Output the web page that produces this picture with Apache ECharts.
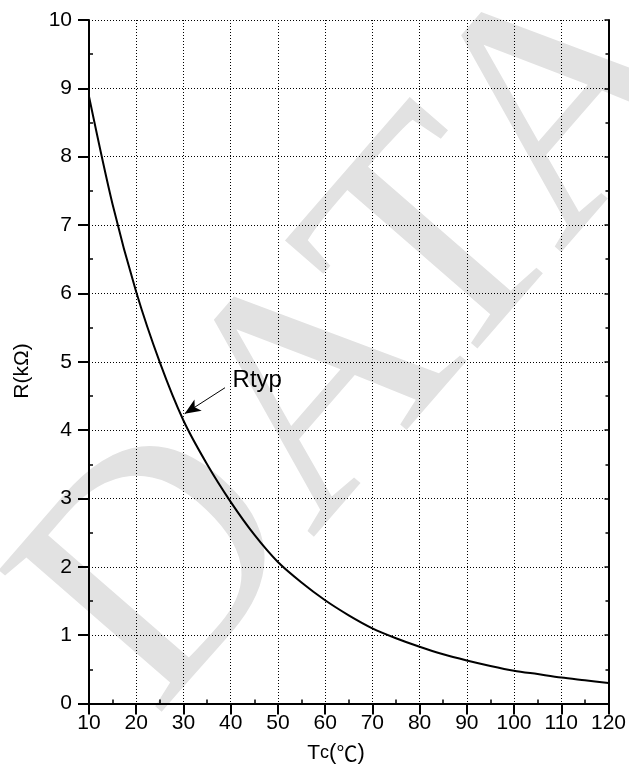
<!DOCTYPE html>
<html><head><meta charset="utf-8">
<script src="https://cdn.jsdelivr.net/npm/echarts@6/dist/echarts.min.js"></script>
<style>html,body{margin:0;padding:0;background:#fff}#c{width:629px;height:779px}</style>
</head><body><div id="c"></div>
<script>
var temps = [10,15,20,25,30,35,40,45,50,55,60,65,70,75,80,85,90,95,100,105,110,115,120];
var rTyp  = [8.88,7.30,6.02,4.99,4.14,3.50,2.95,2.47,2.07,1.77,1.51,1.29,1.10,0.955,0.83,0.72,0.63,0.55,0.48,0.43,0.38,0.34,0.30];
var xTicks = {min:10, max:120, interval:10};
var yTicks = {min:0, max:10, interval:1};
var arrowFrom = [38.8, 4.62], arrowTo = [30.25, 4.24];
var labelAt = [40.4, 4.72];
var watermark = 'DATA';

var font = 'Liberation Sans, Arial, sans-serif';
var chart = echarts.init(document.getElementById('c'));
var baseX = {type:'value', min:xTicks.min, max:xTicks.max, interval:xTicks.interval, gridIndex:0};
var baseY = {type:'value', min:yTicks.min, max:yTicks.max, interval:yTicks.interval, gridIndex:0};
var data = temps.map(function(t,i){return [t, rTyp[i]];});
chart.setOption({
  animation:false,
  grid:{left:89, right:20, top:20, bottom:75.5, containLabel:false},
  xAxis:[
    Object.assign({}, baseX, {position:'bottom',
      axisLine:{lineStyle:{color:'#000', width:2}},
      axisTick:{show:true, inside:false, length:11, lineStyle:{color:'#000', width:2}},
      axisLabel:{color:'#000', fontSize:21, fontFamily:font, margin:9},
      splitLine:{show:true, lineStyle:{color:'#000', width:1, type:[1,2]}},
      minorTick:{show:false}}),
    Object.assign({}, baseX, {position:'bottom',
      axisLine:{show:false}, axisTick:{show:false, inside:true}, axisLabel:{show:false}, splitLine:{show:false},
      minorTick:{show:true, splitNumber:2, length:4, lineStyle:{color:'#000', width:1.5}}}),
    Object.assign({}, baseX, {position:'top',
      axisLine:{lineStyle:{color:'#000', width:2}}, axisTick:{show:false}, axisLabel:{show:false}, splitLine:{show:false}})
  ],
  yAxis:[
    Object.assign({}, baseY, {position:'left',
      axisLine:{lineStyle:{color:'#000', width:2}},
      axisTick:{show:true, inside:false, length:11, lineStyle:{color:'#000', width:2}},
      axisLabel:{color:'#000', fontSize:21, fontFamily:font, margin:17},
      splitLine:{show:true, lineStyle:{color:'#000', width:1, type:[1,2]}},
      minorTick:{show:false}}),
    Object.assign({}, baseY, {position:'left',
      axisLine:{show:false}, axisTick:{show:false, inside:true}, axisLabel:{show:false}, splitLine:{show:false},
      minorTick:{show:true, splitNumber:2, length:4, lineStyle:{color:'#000', width:1.5}}}),
    Object.assign({}, baseY, {position:'right',
      axisLine:{lineStyle:{color:'#000', width:2}},
      axisTick:{show:true, inside:true, length:4, lineStyle:{color:'#000', width:1.5}},
      axisLabel:{show:false}, splitLine:{show:false},
      minorTick:{show:true, splitNumber:2, length:3, lineStyle:{color:'#000', width:1.5}}})
  ],
  series:[{
    type:'line', data:data, smooth:0.3, showSymbol:false, symbol:'none',
    lineStyle:{color:'#000', width:2}, xAxisIndex:0, yAxisIndex:0, z:5,
    markLine:{silent:true, symbol:['none','arrow'], symbolSize:[10,16],
      lineStyle:{color:'#000', width:1, type:'solid'}, label:{show:false},
      data:[[{coord:arrowFrom},{coord:arrowTo}]]}
  }]
});
function place(){
  var p = chart.convertToPixel({xAxisIndex:0, yAxisIndex:0}, labelAt);
  chart.setOption({graphic:[
    {type:'text', x:370, y:340, rotation:49*Math.PI/180, z:-100, silent:true,
      style:{text:watermark, font:'330px "Liberation Serif", serif', fill:'#e2e2e2', align:'center', verticalAlign:'middle'}},
    {type:'text', left:p[0], top:p[1]-13, style:{text:'Rtyp', font:'24px '+font, fill:'#000'}},
    {type:'text', x:22, y:371, rotation:Math.PI/2, style:{text:'R(kΩ)', font:'21px '+font, fill:'#000', align:'center', verticalAlign:'middle'}},
    {type:'text', x:336, y:753, style:{text:'{a|T}{b|c}{p|(}{d|℃}{p|)}', align:'center', verticalAlign:'middle',
      rich:{a:{fontSize:21, fontFamily:font, fill:'#000'}, b:{fontSize:18, fontFamily:font, fill:'#000'},
            p:{fontSize:22, fontFamily:font, fill:'#000'},
            d:{fontSize:21, fontFamily:'"Noto Sans CJK SC", sans-serif', fill:'#000'}}}}
  ]});
}
place();
</script></body></html>
